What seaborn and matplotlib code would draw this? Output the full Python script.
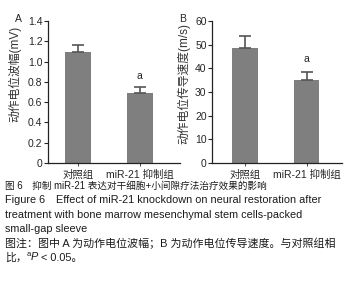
import matplotlib
matplotlib.use('Agg')
import matplotlib.pyplot as plt
import seaborn as sns
import pandas as pd

# data
groups = ['对照组', 'miR-21 抑制组']
amp_mean = [1.09, 0.69]
amp_err = [0.07, 0.06]
vel_mean = [48.5, 35.0]
vel_err = [5.0, 3.5]

caption = [
    '图 6　抑制 miR-21 表达对干细胞+小间隙疗法治疗效果的影响',
    'Figure 6　Effect of miR-21 knockdown on neural restoration after',
    'treatment with bone marrow mesenchymal stem cells-packed',
    'small-gap sleeve',
    '图注：图中 A 为动作电位波幅；B 为动作电位传导速度。与对照组相',
]
caption_sizes = [6.9, 7.8, 7.8, 7.8, 7.9]
# last caption line in pieces: (text, style, superscript)
last_line = [('比，', 'normal', False), ('a', 'normal', True),
             ('P', 'italic', False), (' < 0.05。', 'normal', False)]

sns.set_style('white')
plt.rcParams['font.family'] = ['Liberation Sans', 'Noto Sans CJK SC', 'DejaVu Sans']
plt.rcParams['axes.unicode_minus'] = False

fig = plt.figure(figsize=(3.53, 2.83), dpi=100)
fig.patch.set_facecolor('white')

bar_color = '#7f7f7f'


def draw_panel(ax, means, errs, ylim, yticks, ticklabels, ylabel, xlim, lab_xy, star_y):
    df = pd.DataFrame({'group': groups, 'value': means})
    sns.barplot(data=df, x='group', y='value', color=bar_color, width=0.42,
                errorbar=None, saturation=1, ax=ax, edgecolor='none')
    xs = [p.get_x() + p.get_width() / 2 for p in ax.patches]
    ax.errorbar(xs, means, yerr=[[0] * len(errs), errs], fmt='none',
                ecolor='#555555', elinewidth=1.2, capsize=4, capthick=1.2)
    ax.set_xlim(*xlim)
    ax.set_ylim(*ylim)
    ax.set_yticks(yticks)
    ax.set_yticklabels(ticklabels, fontsize=7.5)
    ax.tick_params(axis='y', length=3, width=0.8, pad=1, direction='out', left=True)
    ax.tick_params(axis='x', length=2, width=0.6, pad=3, bottom=True)
    for lbl in ax.get_xticklabels():
        lbl.set_fontsize(7.5)
    ax.set_xlabel('')
    ax.set_ylabel(ylabel, fontsize=8.5, color='#333333')
    ax.yaxis.set_label_coords(lab_xy[0], lab_xy[1])
    for s in ['top', 'right']:
        ax.spines[s].set_visible(False)
    for s in ['left', 'bottom']:
        ax.spines[s].set_color('#222222')
        ax.spines[s].set_linewidth(0.9)
    ax.text(xs[1], star_y, 'a', ha='center', va='center', fontsize=7.5)
    ax.set_facecolor('white')


axA = fig.add_axes([0.136, 0.424, 0.374, 0.502])
draw_panel(axA, amp_mean, amp_err, (0, 1.4), [0, 0.2, 0.4, 0.6, 0.8, 1.0, 1.2, 1.4],
           ['0', '0.2', '0.4', '0.6', '0.8', '1.0', '1.2', '1.4'],
           '动作电位波幅(mV)', (-0.48, 1.65), (-0.2, 0.63), 0.86)

axB = fig.add_axes([0.601, 0.424, 0.368, 0.502])
draw_panel(axB, vel_mean, vel_err, (0, 60), [0, 10, 20, 30, 40, 50, 60],
           ['0', '10', '20', '30', '40', '50', '60'],
           '动作电位传导速度(m/s)', (-0.54, 1.58), (-0.165, 0.56), 44)

fig.text(18 / 353, 1 - 19 / 283, 'A', fontsize=7.5, ha='center', va='center')
fig.text(183 / 353, 1 - 19 / 283, 'B', fontsize=7.5, ha='center', va='center')

y0 = 186
step = 14.3
for i, line in enumerate(caption):
    fig.text(5 / 353, 1 - (y0 + i * step) / 283, line, fontsize=caption_sizes[i],
             ha='left', va='center', color='#1a1a1a')

# last line drawn piece by piece so the CJK fallback still works
renderer = fig.canvas.get_renderer()
x = 5 / 353
y = 1 - (y0 + len(caption) * step) / 283
for txt, style, sup in last_line:
    t = fig.text(x, y + (3 / 283 if sup else 0), txt, fontsize=5.5 if sup else 7.8,
                 style=style, ha='left', va='center', color='#1a1a1a')
    bb = t.get_window_extent(renderer)
    x += bb.width / fig.bbox.width

fig.savefig('out.png', dpi=100, facecolor='white')
